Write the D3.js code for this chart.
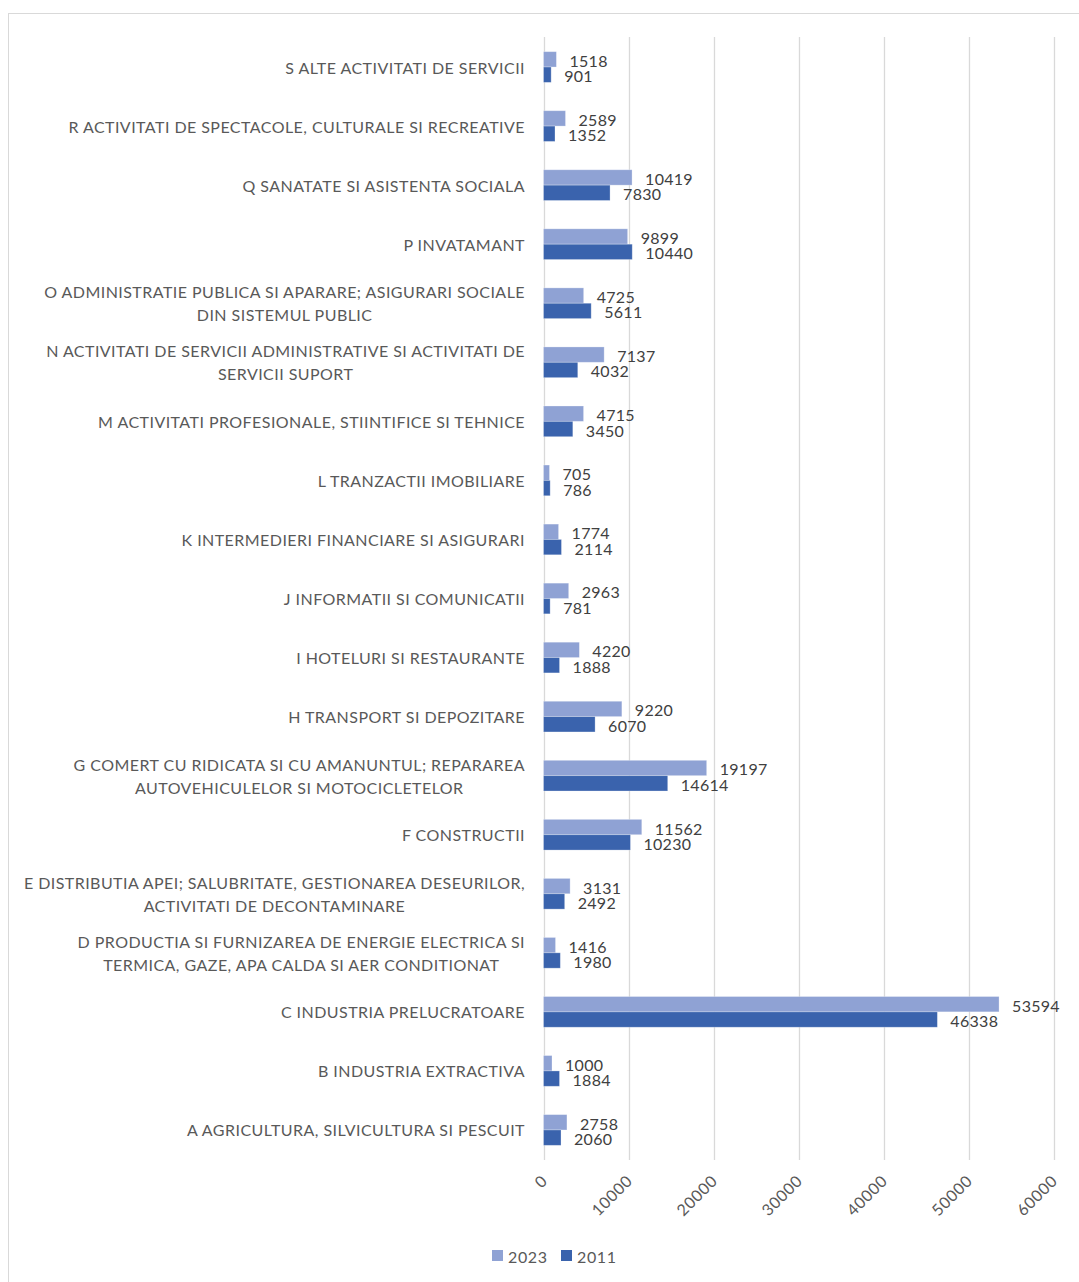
<!DOCTYPE html>
<html>
<head>
<meta charset="utf-8">
<script src="https://cdn.jsdelivr.net/npm/d3@7"></script>
<style>
  body { margin: 0; background: #fff; }
  text { font-family: Lato, "Open Sans", sans-serif; }
</style>
</head>
<body>
<script>
// categories bottom (A) to top (S), "\n" marks where Excel wrapped the label
var categories = [
  "A AGRICULTURA, SILVICULTURA SI PESCUIT",
  "B INDUSTRIA EXTRACTIVA",
  "C INDUSTRIA PRELUCRATOARE",
  "D PRODUCTIA SI FURNIZAREA DE ENERGIE ELECTRICA SI\nTERMICA, GAZE, APA CALDA SI AER CONDITIONAT",
  "E DISTRIBUTIA APEI; SALUBRITATE, GESTIONAREA DESEURILOR,\nACTIVITATI DE DECONTAMINARE",
  "F CONSTRUCTII",
  "G COMERT CU RIDICATA SI CU AMANUNTUL; REPARAREA\nAUTOVEHICULELOR SI MOTOCICLETELOR",
  "H TRANSPORT SI DEPOZITARE",
  "I HOTELURI SI RESTAURANTE",
  "J INFORMATII SI COMUNICATII",
  "K INTERMEDIERI FINANCIARE SI ASIGURARI",
  "L TRANZACTII IMOBILIARE",
  "M ACTIVITATI PROFESIONALE, STIINTIFICE SI TEHNICE",
  "N ACTIVITATI DE SERVICII ADMINISTRATIVE SI ACTIVITATI DE\nSERVICII SUPORT",
  "O ADMINISTRATIE PUBLICA SI APARARE; ASIGURARI SOCIALE\nDIN SISTEMUL PUBLIC",
  "P INVATAMANT",
  "Q SANATATE SI ASISTENTA SOCIALA",
  "R ACTIVITATI DE SPECTACOLE, CULTURALE SI RECREATIVE",
  "S ALTE ACTIVITATI DE SERVICII"
];
var values2023 = [2758, 1000, 53594, 1416, 3131, 11562, 19197, 9220, 4220, 2963, 1774, 705, 4715, 7137, 4725, 9899, 10419, 2589, 1518];
var values2011 = [2060, 1884, 46338, 1980, 2492, 10230, 14614, 6070, 1888, 781, 2114, 786, 3450, 4032, 5611, 10440, 7830, 1352, 901];
var seriesNames = ["2023", "2011"];
var xTicks = [0, 10000, 20000, 30000, 40000, 50000, 60000];

var colors = { "2023": "#8fa2d4", "2011": "#3a63ad" };

var W = 1079, H = 1282;
var svg = d3.select("body").append("svg")
    .attr("width", W).attr("height", H);

svg.append("rect").attr("width", W).attr("height", H).attr("fill", "#fff");
// chart area border (right/bottom run off the picture)
svg.append("rect")
    .attr("x", 8.5).attr("y", 13.5)
    .attr("width", W + 20).attr("height", H + 20)
    .attr("fill", "none").attr("stroke", "#d9d9d9");

var x = d3.scaleLinear().domain([0, 60000]).range([543.5, 1053.5]);
var y = d3.scaleBand()
    .domain(categories.slice().reverse())
    .range([37.5, 1159.5]);
var barH = y.bandwidth() * 0.26;

// grid
svg.append("g").selectAll("line")
    .data(xTicks).join("line")
    .attr("x1", d => Math.round(x(d)) + 0.5).attr("x2", d => Math.round(x(d)) + 0.5)
    .attr("y1", 37).attr("y2", 1160)
    .attr("stroke", "#d9d9d9").attr("stroke-width", 1.3);

// tick labels, rotated like Excel
svg.append("g").selectAll("text")
    .data(xTicks).join("text")
    .attr("transform", d => "translate(" + (x(d) + 5) + ",1182) rotate(-45)")
    .attr("text-anchor", "end")
    .attr("fill", "#595959")
    .style("font-size", "16px")
    .style("letter-spacing", "0.6px")
    .text(d => d);

var rows = categories.map(function(c, i) {
    return { cat: c, v: [values2023[i], values2011[i]] };
});

var bars = svg.append("g");
rows.forEach(function(r) {
    var cy = y(r.cat) + y.bandwidth() / 2;
    r.v.forEach(function(v, k) {
        var top = cy - barH + k * barH;
        bars.append("rect")
            .attr("x", x(0)).attr("y", top)
            .attr("width", x(v) - x(0)).attr("height", barH)
            .attr("fill", colors[seriesNames[k]])
            .attr("stroke", "#fff").attr("stroke-opacity", 0.35).attr("stroke-width", 0.8);
        bars.append("text")
            .attr("x", x(v) + 13).attr("y", top + barH / 2 + 1)
            .attr("dominant-baseline", "central")
            .attr("fill", "#404040")
            .style("font-size", "16px")
            .style("letter-spacing", "0.3px")
            .text(v);
    });
});

// category labels: block right aligned, lines centred within the block
var labels = svg.append("g");
rows.forEach(function(r) {
    var lines = r.cat.split("\n");
    var cy = y(r.cat) + y.bandwidth() / 2;
    var lh = 23;
    var g = labels.append("g");
    var ts = lines.map(function(l, i) {
        return g.append("text")
            .attr("y", cy + (i - (lines.length - 1) / 2) * lh)
            .attr("dominant-baseline", "central")
            .attr("text-anchor", "middle")
            .attr("fill", "#595959")
            .style("font-size", "16px")
            .style("letter-spacing", "0.45px")
            .text(l);
    });
    var maxW = d3.max(ts, t => t.node().getComputedTextLength());
    ts.forEach(t => t.attr("x", 525 - maxW / 2));
});

// legend
var leg = svg.append("g");
seriesNames.forEach(function(s, i) {
    var lx = 492 + i * 69;
    leg.append("rect").attr("x", lx).attr("y", 1250).attr("width", 11).attr("height", 11)
        .attr("fill", colors[s]);
    leg.append("text").attr("x", lx + 16).attr("y", 1256)
        .attr("dominant-baseline", "central")
        .attr("fill", "#595959").style("font-size", "16px")
        .style("letter-spacing", "0.6px")
        .text(s);
});
</script>
</body>
</html>
